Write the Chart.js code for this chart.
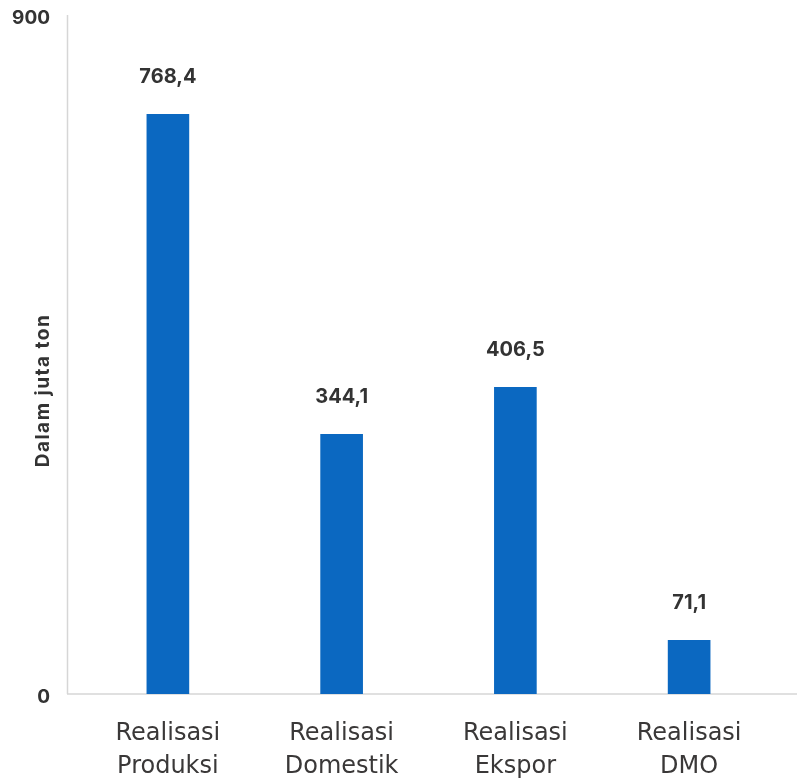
<!DOCTYPE html>
<html>
<head>
<meta charset="utf-8">
<script src="https://cdn.jsdelivr.net/npm/chart.js@4/dist/chart.umd.min.js"></script>
<style>
  html, body { margin: 0; padding: 0; background: #ffffff; }
  #wrap { width: 797px; height: 778px; position: relative; }
</style>
</head>
<body>
<div id="wrap"><canvas id="c" width="797" height="778"></canvas></div>
<script>
const categories = ['Realisasi Produksi', 'Realisasi Domestik', 'Realisasi Ekspor', 'Realisasi DMO'];
const values = [768.4, 344.1, 406.5, 71.1];
const yTicks = [0, 900];
const yTitle = 'Dalam juta ton';

const barColor = '#0B68C1';
const textColor = '#333333';

const fmt = v => v.toFixed(1).replace('.', ',');

const decorPlugin = {
  id: 'decor',
  beforeDatasetsDraw(chart) {
    const { ctx, chartArea } = chart;
    ctx.save();
    ctx.strokeStyle = '#d6d6d6';
    ctx.lineWidth = 1.5;
    ctx.beginPath();
    ctx.moveTo(chartArea.left - 13.5, chartArea.top);
    ctx.lineTo(chartArea.left - 13.5, chartArea.bottom);
    ctx.moveTo(chartArea.left - 14, chartArea.bottom);
    ctx.lineTo(chart.width, chartArea.bottom);
    ctx.stroke();
    ctx.restore();
  },
  afterDatasetsDraw(chart) {
    const { ctx, chartArea } = chart;
    const meta = chart.getDatasetMeta(0);
    ctx.save();
    ctx.fillStyle = textColor;
    ctx.font = '700 20px Inter, "Liberation Sans", sans-serif';
    ctx.textAlign = 'center';
    ctx.textBaseline = 'middle';
    meta.data.forEach((bar, i) => {
      ctx.fillText(fmt(values[i]), bar.x, bar.y - 37);
    });
    // axis title
    ctx.translate(43, (chartArea.top + chartArea.bottom) / 2 + 36);
    ctx.rotate(-Math.PI / 2);
    ctx.font = '700 19px Inter, "Liberation Sans", sans-serif';
    if ('letterSpacing' in ctx) ctx.letterSpacing = '1.5px';
    ctx.fillText(yTitle, 0, 0);
    ctx.restore();
  }
};

new Chart(document.getElementById('c'), {
  type: 'bar',
  data: {
    labels: categories.map(c => c.split(' ')),
    datasets: [{
      data: values,
      backgroundColor: barColor,
      borderWidth: 0,
      barThickness: 42
    }]
  },
  options: {
    responsive: false,
    animation: false,
    devicePixelRatio: 1,
    layout: { padding: { top: 15, right: 21, left: 0, bottom: 0 } },
    plugins: { legend: { display: false }, tooltip: { enabled: false } },
    scales: {
      x: {
        grid: { display: false, drawTicks: false },
        border: { display: false },
        ticks: {
          color: '#3a3838',
          font: { family: '"DejaVu Sans", sans-serif', size: 24, lineHeight: '33px' },
          padding: 23,
          maxRotation: 0,
          autoSkip: false
        },
        afterFit(scale) { scale.height = 84; }
      },
      y: {
        min: 0,
        max: 900,
        grid: { display: false, drawTicks: false },
        border: { display: false },
        afterBuildTicks(scale) { scale.ticks = yTicks.map(v => ({ value: v })); },
        ticks: {
          color: textColor,
          font: { family: 'Inter, "Liberation Sans", sans-serif', size: 19, weight: '700' },
          padding: 31,
          labelOffset: 3
        },
        afterFit(scale) {
          scale.width = 81;
          scale.paddingTop = 0;
          scale.paddingBottom = 0;
        }
      }
    }
  },
  plugins: [decorPlugin]
});
</script>
</body>
</html>
